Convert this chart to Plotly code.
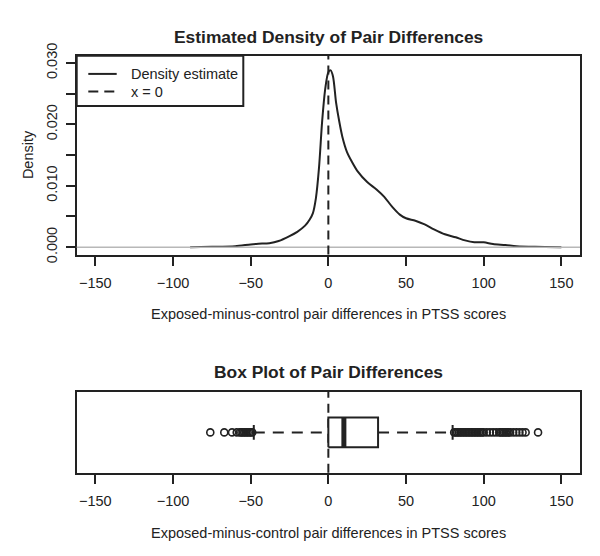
import plotly.graph_objects as go

# ---------------- data ----------------
# Kernel density estimate of the pair differences
dens_x = [-89, -75, -60, -50, -45, -38, -32, -25, -20, -15, -12, -10, -8, -6, -4, -2,
          0, 1.5, 3, 5, 7, 9, 12, 15, 19, 25, 31, 36, 41, 46, 50, 56, 62, 68, 75,
          82, 88, 94, 100, 106, 114, 121, 133, 150]
dens_y = [0.0, 0.00005, 0.00016, 0.00045, 0.00055, 0.00065, 0.0010, 0.0018, 0.0025,
          0.0035, 0.0045, 0.0055, 0.0080, 0.0130, 0.0205, 0.0258, 0.0285, 0.0288,
          0.0278, 0.0235, 0.0205, 0.0180, 0.0155, 0.0140, 0.0123, 0.0106, 0.0094,
          0.0082, 0.0066, 0.0053, 0.0047, 0.0043, 0.0037, 0.0029, 0.0021, 0.0016,
          0.0011, 0.0008, 0.0008, 0.0005, 0.00035, 0.00016, 0.00005, 0.0]

# Box-plot summary of the pair differences
q1 = 0
median = 10
q3 = 32
whisker_low = -48
whisker_high = 80
outliers_low = [-76, -67, -62, -59, -57, -56, -55, -54, -53, -52, -51, -50, -49]
outliers_high = list(range(81, 101)) + [102, 104, 106, 108, 110, 111, 112, 113, 114,
                                        115, 116, 117, 119, 121, 123, 125, 127, 135]

ref_x = 0
x_ticks = [-150, -100, -50, 0, 50, 100, 150]
y_ticks = [0.0, 0.005, 0.010, 0.015, 0.020, 0.025, 0.030]
y_tick_labels = ["0.000", "", "0.010", "", "0.020", "", "0.030"]
legend_labels = ["Density estimate", "x = 0"]

# ---------------- styling ----------------
W, H = 600, 556
FONT = "Liberation Sans, Arial, Helvetica, sans-serif"
INK = "#222222"
FS = 14.5
TFS = 17.4


def py(p):  # pixel row -> paper y
    return 1 - p / H


def px(p):  # pixel column -> paper x
    return p / W


x_dom = [px(76.7), px(580)]
y1_dom = [py(251), py(44.3)]
y2_dom = [py(477.7), py(394)]
x_range = [-162, 162]
y1_range = [-0.0012, 0.0312]
y2_range = [0.46, 1.54]
box_half = 0.2
staple_half = 0.1

fig = go.Figure()

# density curve
fig.add_trace(go.Scatter(x=dens_x, y=dens_y, mode="lines", name=legend_labels[0],
                         line=dict(color=INK, width=2, shape="spline", smoothing=0.8),
                         xaxis="x", yaxis="y", showlegend=False, hoverinfo="skip"))

# box plot: dashed whiskers
wdash = "11px,8px"
fig.add_trace(go.Scatter(x=[whisker_low, q1], y=[1, 1], mode="lines",
                         line=dict(color=INK, width=2, dash=wdash),
                         xaxis="x2", yaxis="y2", showlegend=False, hoverinfo="skip"))
fig.add_trace(go.Scatter(x=[q3, whisker_high], y=[1, 1], mode="lines",
                         line=dict(color=INK, width=2, dash=wdash),
                         xaxis="x2", yaxis="y2", showlegend=False, hoverinfo="skip"))
# staples
for w in (whisker_low, whisker_high):
    fig.add_trace(go.Scatter(x=[w, w], y=[1 - staple_half, 1 + staple_half], mode="lines",
                             line=dict(color=INK, width=2),
                             xaxis="x2", yaxis="y2", showlegend=False, hoverinfo="skip"))
# box
fig.add_trace(go.Scatter(x=[q1, q3, q3, q1, q1],
                         y=[1 - box_half, 1 - box_half, 1 + box_half, 1 + box_half, 1 - box_half],
                         mode="lines", line=dict(color=INK, width=2),
                         fill="toself", fillcolor="white",
                         xaxis="x2", yaxis="y2", showlegend=False, hoverinfo="skip"))
# median
fig.add_trace(go.Scatter(x=[median, median], y=[1 - box_half, 1 + box_half], mode="lines",
                         line=dict(color=INK, width=5),
                         xaxis="x2", yaxis="y2", showlegend=False, hoverinfo="skip"))
# outliers
out = outliers_low + outliers_high
fig.add_trace(go.Scatter(x=out, y=[1] * len(out), mode="markers",
                         marker=dict(symbol="circle-open", size=7, color=INK,
                                     line=dict(width=1.6, color=INK)),
                         xaxis="x2", yaxis="y2", showlegend=False, hoverinfo="skip"))

zdash = "9px,6px"
shapes = [
    # grey line at density 0, drawn over the curve
    dict(type="line", xref="x domain", yref="y", x0=0, x1=1, y0=0, y1=0,
         line=dict(color="#b8b8b8", width=1.5), layer="above"),
    # x = 0 reference lines
    dict(type="line", xref="x", yref="y domain", x0=ref_x, x1=ref_x, y0=0, y1=1,
         line=dict(color=INK, width=2, dash=zdash), layer="above"),
    dict(type="line", xref="x2", yref="y2 domain", x0=ref_x, x1=ref_x, y0=0, y1=1,
         line=dict(color=INK, width=2, dash=zdash), layer="below"),
    # legend frame and line samples
    dict(type="rect", xref="paper", yref="paper", x0=px(76.7), x1=px(243.3),
         y0=py(96.7), y1=py(44.3), line=dict(color=INK, width=2), fillcolor="white",
         layer="above"),
    dict(type="line", xref="paper", yref="paper", x0=px(88.3), x1=px(116.7),
         y0=py(63.3), y1=py(63.3), line=dict(color=INK, width=2), layer="above"),
    dict(type="line", xref="paper", yref="paper", x0=px(88.3), x1=px(116.7),
         y0=py(81.7), y1=py(81.7), line=dict(color=INK, width=2, dash="10px,6px"),
         layer="above"),
]

axis_common = dict(showline=True, mirror=True, linecolor=INK, linewidth=2,
                   showgrid=False, zeroline=False,
                   tickfont=dict(family=FONT, size=FS, color=INK))


def ann(text, x, y, size=FS, angle=0, xanchor="center"):
    return dict(text=text, x=px(x), y=py(y), xref="paper", yref="paper", showarrow=False,
                xanchor=xanchor, yanchor="middle", textangle=angle,
                font=dict(family=FONT, size=size, color=INK))


fig.update_layout(
    width=W, height=H, margin=dict(l=0, r=0, t=0, b=0),
    paper_bgcolor="white", plot_bgcolor="white",
    font=dict(family=FONT, size=FS, color=INK), showlegend=False,
    shapes=shapes,
    xaxis=dict(domain=x_dom, anchor="y", range=x_range, tickvals=x_ticks,
               ticks="outside", ticklen=9, tickwidth=2, tickcolor=INK,
               ticklabelstandoff=5, **axis_common),
    yaxis=dict(domain=y1_dom, anchor="x", range=y1_range, tickvals=y_ticks,
               ticktext=y_tick_labels, tickangle=-90,
               ticks="outside", ticklen=9, tickwidth=2, tickcolor=INK,
               ticklabelstandoff=3, **axis_common),
    xaxis2=dict(domain=x_dom, anchor="y2", range=x_range, tickvals=x_ticks,
                ticks="outside", ticklen=9, tickwidth=2, tickcolor=INK,
                ticklabelstandoff=5, **axis_common),
    yaxis2=dict(domain=y2_dom, anchor="x2", range=y2_range, showticklabels=False,
                ticks="", **axis_common),
    annotations=[
        ann("<b>Estimated Density of Pair Differences</b>", 328, 25, TFS),
        ann("Exposed-minus-control pair differences in PTSS scores", 328, 313.3),
        ann("Density", 28, 147.7, angle=-90),
        ann("<b>Box Plot of Pair Differences</b>", 328, 372.7, TFS),
        ann("Exposed-minus-control pair differences in PTSS scores", 328, 540),
        ann(legend_labels[0], 129.3, 63.3, xanchor="left"),
        ann(legend_labels[1], 129.3, 81.7, xanchor="left"),
    ],
)

# remove the browser's default 8px page margin so the figure sits at (0, 0)
fig.write_html("out.html", config={"displayModeBar": False},
               post_script="document.body.style.margin='0';")
